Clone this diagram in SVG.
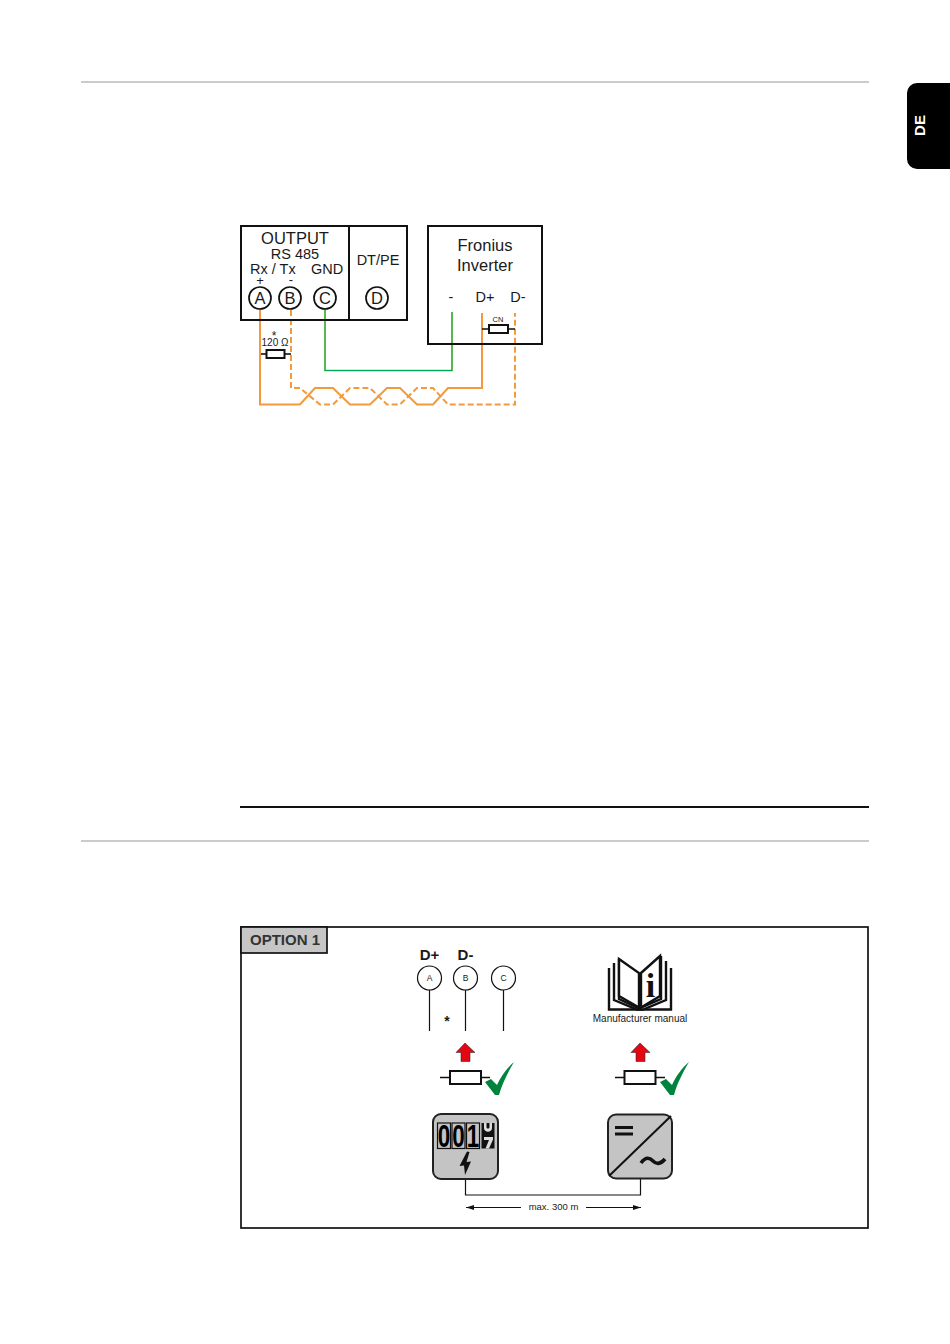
<svg xmlns="http://www.w3.org/2000/svg" width="950" height="1344" viewBox="0 0 950 1344">
<style>
text{font-family:"Liberation Sans",Arial,sans-serif;fill:#1a1a1a}
.m{text-anchor:middle}
.box{fill:none;stroke:#111;stroke-width:2}
.ring{fill:none;stroke:#111;stroke-width:1.700}
.thin{fill:none;stroke:#111;stroke-width:1.200}
.res{fill:#fff;stroke:#111;stroke-width:2}
.or{fill:none;stroke:#f39a3c;stroke-width:2}
.dash{stroke-dasharray:6 3}
.t16{font-size:16.500px}.t14{font-size:14.500px}
.page{fill:#fff;stroke:#111;stroke-width:2.400;stroke-linejoin:miter}
.arrow{fill:#e30613;stroke:#333;stroke-width:.6}
.check{fill:#00843d}
.dev{fill:#c4c4c4;stroke:#222;stroke-width:2}
.dig{fill:#c4c4c4;stroke:#111;stroke-width:1.200}
</style>
<defs>
<marker id="ah" markerWidth="9" markerHeight="6" refX="8" refY="2.500" orient="auto-start-reverse" markerUnits="userSpaceOnUse"><path d="M0 0L8 2.500L0 5z" fill="#111"/></marker>
</defs>
<g id="page-furniture">
<rect x="81" y="81" width="788" height="2" fill="#cbcbcb"/>
<rect x="81" y="840" width="788" height="2" fill="#cbcbcb"/>
<rect x="240" y="806" width="629" height="2" fill="#111"/>
<path d="M950 83H917a10 10 0 0 0-10 10V159a10 10 0 0 0 10 10H950z" fill="#000"/>
<text transform="translate(925,125.500) rotate(-90)" class="m" style="fill:#fff;font-weight:bold;font-size:15px">DE</text>
</g>
<g id="connectors">
<path class="or" d="M260 309V404.500H300L315 388H333L350 404.500H370L387 388H400L417 404.500H433L448 388H482V313"/>
<path class="or dash" d="M291 310V388H300L320 404.500H333L350 388H370L387 404.500H400L417 388H433L448 404.500H515V313"/>
<path fill="none" stroke="#d8d84a" stroke-width="2" d="M325 309V370.500H452V312"/>
<path fill="none" stroke="#00a651" stroke-width="1.200" d="M325 309V370.500H452V312"/>
<path class="thin" d="M465.500 1179V1195H640.500V1179"/>
<path class="thin" style="stroke-width:1" marker-start="url(#ah)" d="M466 1207.500H521"/>
<path class="thin" style="stroke-width:1" marker-end="url(#ah)" d="M586 1207.500H641"/>
<path class="thin" d="M429.500 990V1031M465.500 990V1031M503.500 990V1031"/>
</g>
<g id="output-box">
<rect class="box" x="241" y="226" width="166" height="94"/>
<path class="box" d="M349 226V320"/>
<text class="m t16" x="295" y="244">OUTPUT</text>
<text class="m t14" x="295" y="259">RS 485</text>
<text x="250" y="274" class="t14">Rx / Tx</text>
<text class="m t14" x="327" y="274">GND</text>
<text class="m" style="font-size:13px" x="260" y="285">+</text>
<text class="m" style="font-size:13px" x="291" y="284">-</text>
<text class="m t14" x="378" y="265">DT/PE</text>
</g>
<g id="terminal-a"><circle class="ring" cx="260" cy="298" r="11"/><text class="m t16" x="260" y="304">A</text></g>
<g id="terminal-b"><circle class="ring" cx="290" cy="298" r="11"/><text class="m t16" x="290" y="304">B</text></g>
<g id="terminal-c"><circle class="ring" cx="325" cy="298" r="11"/><text class="m t16" x="325" y="304">C</text></g>
<g id="terminal-d"><circle class="ring" cx="377" cy="298" r="11"/><text class="m t16" x="377" y="304">D</text></g>
<g id="inverter-box">
<rect class="box" x="428" y="226" width="114" height="118"/>
<text class="m t16" x="485" y="251">Fronius</text>
<text class="m t16" x="485" y="271">Inverter</text>
<text class="m t14" x="451" y="302">-</text>
<text class="m t14" x="485" y="302">D+</text>
<text class="m t14" x="518" y="302">D-</text>
</g>
<g id="resistor-cn">
<path class="thin" style="stroke-width:1.600" d="M482 329H515"/>
<rect class="res" x="489" y="325" width="19" height="8"/>
<text class="m" style="font-size:7.500px" x="498" y="322">CN</text>
</g>
<g id="resistor-120">
<path class="thin" style="stroke-width:1.600" d="M261 354H291"/>
<rect class="res" x="266.500" y="350" width="18" height="8"/>
<text class="m" style="font-size:12px" x="274" y="340">*</text>
<text class="m" style="font-size:10px" x="275" y="346">120 Ω</text>
</g>
<g id="option-panel">
<rect x="241" y="927" width="627" height="301" fill="none" stroke="#111" stroke-width="1.700"/>
<rect x="241" y="927" width="86" height="26" fill="#c6c6c6" stroke="#111" stroke-width="1.700"/>
<text x="285" y="945" class="m" style="font-weight:bold;font-size:15px;fill:#333">OPTION 1</text>
</g>
<g id="terminals-abc">
<text class="m" x="429.500" y="960" style="font-weight:bold;font-size:15px">D+</text>
<text class="m" x="465.500" y="960" style="font-weight:bold;font-size:15px">D-</text>
<circle class="thin" cx="429.500" cy="978" r="12"/><text class="m" style="font-size:8.500px" x="429.500" y="981">A</text>
<circle class="thin" cx="465.500" cy="978" r="12"/><text class="m" style="font-size:8.500px" x="465.500" y="981">B</text>
<circle class="thin" cx="503.500" cy="978" r="12"/><text class="m" style="font-size:8.500px" x="503.500" y="981">C</text>
<text class="m" style="font-size:14px;font-weight:bold" x="447" y="1026">*</text>
</g>
<g id="manual">
<path class="page" d="M609 968V1009.500H671V968"/>
<path class="page" d="M614 963V1000L637 1009.500H643L666 1000V961"/>
<path class="page" d="M619 959V999L639 1008.500L661 999V956"/>
<path class="page" d="M619 959L639 973V1007.500L619 996Z"/>
<path class="page" d="M641 973L660 956V996L641 1007.500Z"/>
<text x="650.500" y="997" class="m" style="font-family:'Liberation Serif',serif;font-weight:bold;font-size:34px;fill:#111">i</text>
<text class="m" style="font-size:10px" x="640" y="1022">Manufacturer manual</text>
</g>
<g id="resistor-left">
<path class="arrow" d="M465 1043L475 1052.500H470V1061.500H461V1052.500H456Z"/>
<path class="thin" style="stroke-width:1.600" d="M440 1077.500H490"/>
<rect class="res" x="450" y="1071" width="31" height="13"/>
<path class="check" d="M485 1082L491 1079L497 1085C501 1076 507 1068 514 1062C508 1072 502 1084 499 1095H495Z"/>
</g>
<g id="resistor-right">
<path class="arrow" d="M640 1043L650 1052.500H645V1061.500H636V1052.500H631Z"/>
<path class="thin" style="stroke-width:1.600" d="M615 1077.500H665"/>
<rect class="res" x="624.500" y="1071" width="31" height="13"/>
<path class="check" d="M660 1082L666 1079L672 1085C676 1076 682 1068 689 1062C683 1072 677 1084 674 1095H670Z"/>
</g>
<g id="meter">
<rect class="dev" x="433" y="1114" width="65" height="65" rx="8"/>
<rect class="dig" x="437.500" y="1123" width="13" height="25.500"/>
<rect class="dig" x="452" y="1123" width="13" height="25.500"/>
<rect class="dig" x="466.500" y="1123" width="13" height="25.500"/>
<text class="m" x="444" y="1147" style="font-weight:bold;font-size:32px;fill:#000" textLength="12.500" lengthAdjust="spacingAndGlyphs">0</text>
<text class="m" x="458.500" y="1147" style="font-weight:bold;font-size:32px;fill:#000" textLength="12.500" lengthAdjust="spacingAndGlyphs">0</text>
<text class="m" x="473" y="1147" style="font-weight:bold;font-size:32px;fill:#000" textLength="12.500" lengthAdjust="spacingAndGlyphs">1</text>
<rect x="481.500" y="1123" width="13" height="25.500" fill="#111"/>
<path fill="#ddd" d="M484 1123H486.500V1127C486.500 1129 489.500 1129 489.500 1127V1123H492V1128C492 1133 484 1133 484 1128ZM484 1137H493V1139.500L489 1148.500H485.500L489 1140H484Z"/>
<path fill="#111" d="M467 1151.500L459.500 1166L464 1165.500L465 1175L471 1161.500L466.500 1162L469.500 1152Z"/>
</g>
<g id="inverter-icon">
<rect class="dev" x="608" y="1114.500" width="64" height="64" rx="8"/>
<path stroke="#111" stroke-width="2" d="M671 1116L609 1176"/>
<path fill="#111" d="M615 1126H633V1129H615ZM615 1132.500H633V1135.500H615Z"/>
<path fill="none" stroke="#111" stroke-width="3.600" d="M641 1163C646 1156 650 1158 653 1161C656 1164 660 1165 665 1159"/>
</g>
<text class="m" x="553.500" y="1210" style="font-size:9.500px">max. 300 m</text>
</svg>
